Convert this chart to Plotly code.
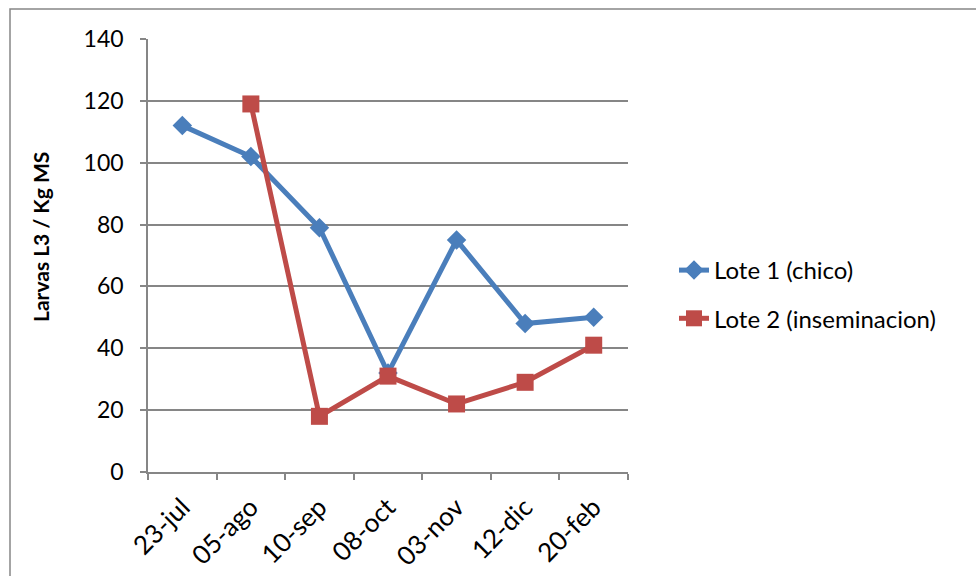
import plotly.graph_objects as go

fechas = ["23-jul", "05-ago", "10-sep", "08-oct", "03-nov", "12-dic", "20-feb"]
lote1 = [112, 102, 79, 32, 75, 48, 50]
lote2 = [None, 119, 18, 31, 22, 29, 41]
y_ticks = [0, 20, 40, 60, 80, 100, 120, 140]
titulo_y = "Larvas L3 / Kg MS"

AZUL = "#4A7EBB"
ROJO = "#BE4B48"
GRIS = "#868686"
FUENTE = "Lato"

W, H = 976, 576
L, R, T, B = 148, 628, 39, 472  # plot area in pixels


def px_x(px):
    return (px - L) / (R - L)


def px_y(py):
    return (B - py) / (B - T)


fig = go.Figure()
fig.add_trace(go.Scatter(
    x=fechas, y=lote1, name="Lote 1 (chico)", mode="lines+markers",
    line=dict(color=AZUL, width=5),
    marker=dict(symbol="diamond", size=15, color=AZUL),
    legendgroup="a",
))
fig.add_trace(go.Scatter(
    x=fechas, y=lote2, name="Lote 2 (inseminacion)", mode="lines+markers",
    line=dict(color=ROJO, width=5),
    marker=dict(symbol="square", size=17, color=ROJO),
    legendgroup="b",
))

fig.update_layout(
    width=W, height=H,
    margin=dict(l=L, r=W - R, t=T, b=H - B, pad=0, autoexpand=False),
    paper_bgcolor="white", plot_bgcolor="white",
    font=dict(family=FUENTE, color="black", size=22),
    showlegend=True,
    legend=dict(
        x=px_x(674), y=px_y(248), xanchor="left", yanchor="top",
        font=dict(size=24, family=FUENTE), tracegroupgap=14,
        bgcolor="rgba(0,0,0,0)",
    ),
    shapes=[dict(
        type="path", xref="paper", yref="paper",
        path=f"M {px_x(10)},{px_y(576)} L {px_x(10)},{px_y(9)} L {px_x(976)},{px_y(9)}",
        line=dict(color=GRIS, width=1.5),
    )],
    annotations=[dict(
        text=f"<b>{titulo_y}</b>", xref="paper", yref="paper",
        x=px_x(40), y=px_y(237), xanchor="center", yanchor="middle",
        textangle=-90, showarrow=False,
        font=dict(size=21, family=FUENTE, color="black"),
    )],
)

fig.update_xaxes(
    type="category", range=[-0.5, 6.5], automargin=False,
    showgrid=False, showline=True, linecolor=GRIS, linewidth=1.5,
    ticks="outside", tickson="boundaries", ticklen=6, tickcolor=GRIS, tickwidth=1.5,
    ticklabelstandoff=8,
    tickangle=-45, tickfont=dict(size=26, family=FUENTE),
)
fig.update_yaxes(
    range=[0, 140], tickvals=y_ticks, ticktext=[str(v) for v in y_ticks],
    automargin=False,
    showgrid=True, gridcolor=GRIS, gridwidth=1.5,
    showline=True, linecolor=GRIS, linewidth=1.5,
    ticks="outside", ticklen=6, tickcolor=GRIS, tickwidth=1.5,
    ticklabelstandoff=12,
    tickfont=dict(size=23, family=FUENTE), zeroline=False,
)

fig.write_html("out.html")
